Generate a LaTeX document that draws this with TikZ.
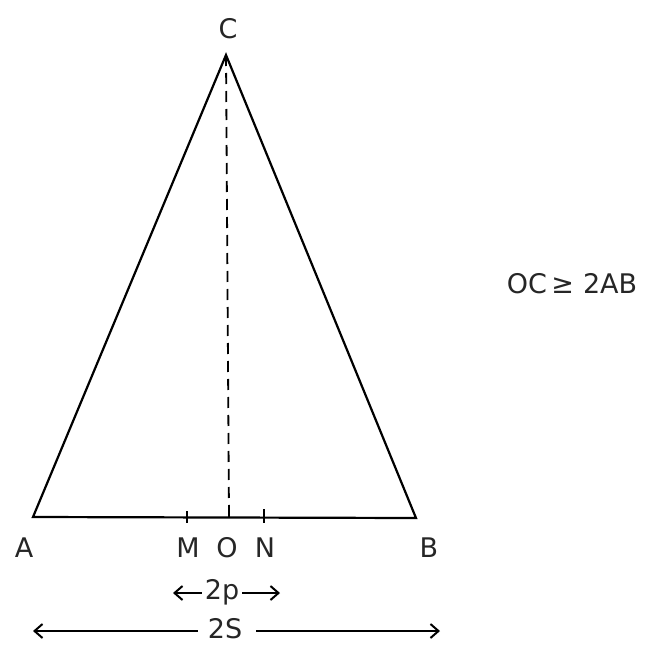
\documentclass[tikz,border=0pt]{standalone}
\usepackage{fontspec}
\setmainfont{DejaVu Sans}
\usetikzlibrary{arrows.meta}
\begin{document}
\begin{tikzpicture}[x=1pt,y=-1pt,
  edge/.style={line width=2.2pt},
  lbl/.style={font=\fontsize{27}{30}\selectfont, inner sep=0pt, text=black!85},
  dim/.style={line width=2pt, -{Straight Barb[length=8pt,width=14pt]}},
  tick/.style={line width=1.8pt}]
\useasboundingbox (0,0) rectangle (650,645);
\coordinate (A) at (33,517);
\coordinate (B) at (416,518);
\coordinate (C) at (226,55);
\coordinate (O) at (229,517);
\coordinate (M) at (187,517);
\coordinate (N) at (264,518);
\draw[edge, line join=miter] (A) -- (C) -- (B) -- cycle;
\draw[line width=1.8pt, dash pattern=on 11pt off 7pt] (C) -- (O);
\draw[tick] (187,511) -- (187,523);
\draw[tick] (229,505) -- (O);
\draw[tick] (264,509) -- (264,523);
\node[lbl] (lC) at (228,29) {C};
\node[lbl] (lA) at (24,548) {A};
\node[lbl] (lM) at (188,548) {M};
\node[lbl] (lO) at (227,548) {O};
\node[lbl] (lN) at (265,548) {N};
\node[lbl] (lB) at (429,548) {B};
\node[lbl] (t2p) at (222,592) {2p};
\coordinate (pL) at (173,593);
\coordinate (pR) at (280,593);
\draw[dim] (t2p.west |- pL) ++(-3pt,0) coordinate (pl0) (pl0) -- (pL);
\draw[dim] (t2p.east |- pR) ++(3pt,0) coordinate (pr0) (pr0) -- (pR);
\node[lbl] (t2s) at (225,629) {2S};
\coordinate (sL) at (33,631);
\coordinate (sR) at (440,631);
\draw[dim] (t2s.west |- sL) ++(-10pt,0) coordinate (sl0) (sl0) -- (sL);
\draw[dim] (t2s.east |- sR) ++(14pt,0) coordinate (sr0) (sr0) -- (sR);
\node[lbl] (eq) at (572,284) {OC\,≥\,\,2AB};
\end{tikzpicture}
\end{document}
